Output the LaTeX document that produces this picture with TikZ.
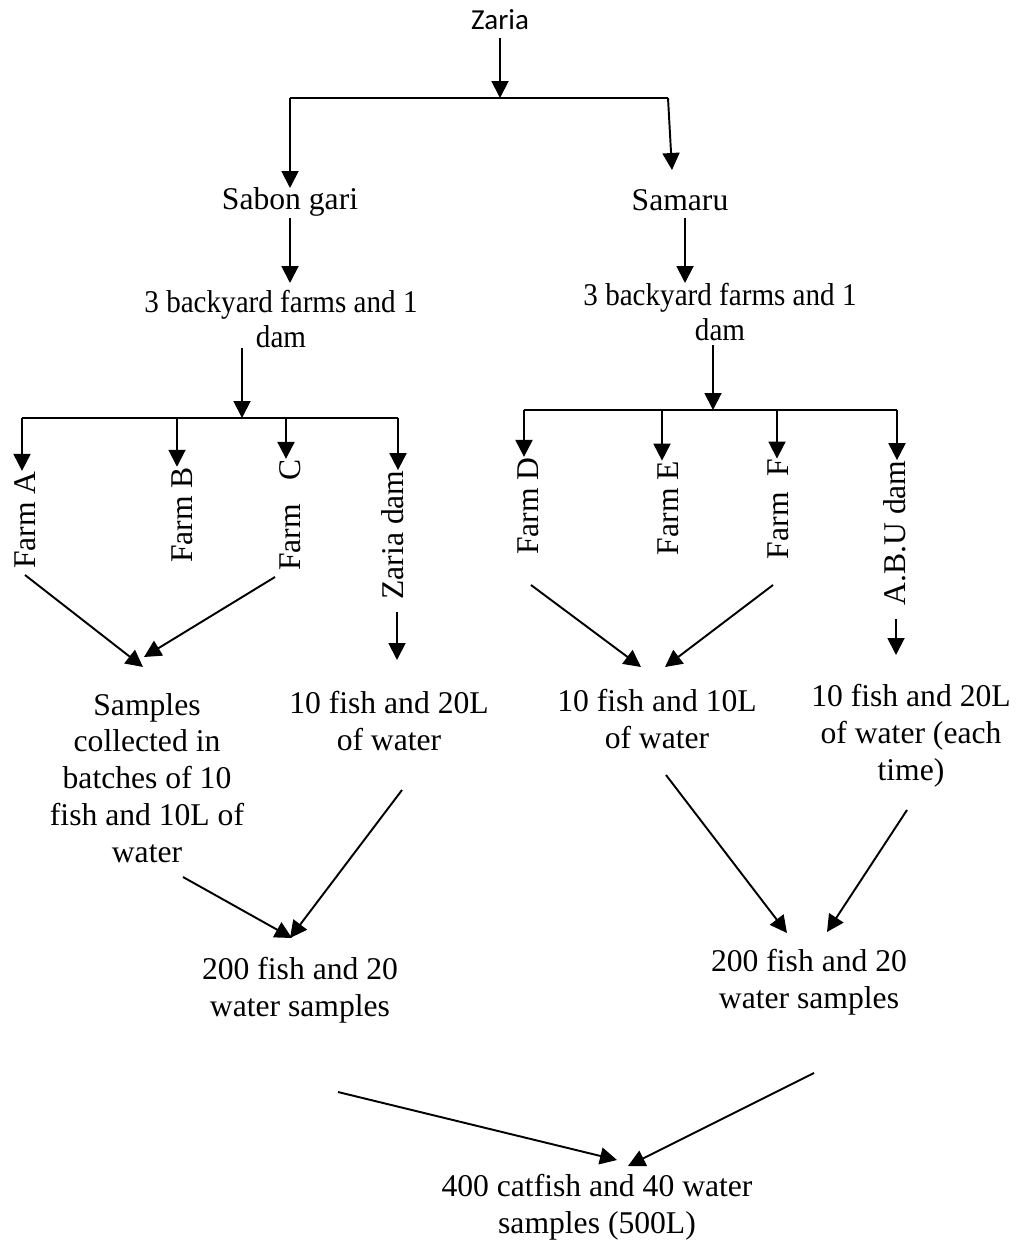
\documentclass[tikz,border=0pt]{standalone}
\usepackage{fontspec}
\setmainfont{Liberation Serif}
\newfontfamily\zariafont{Carlito}
\newfontfamily\narrowfont[FakeStretch=0.92]{Liberation Serif}
\usetikzlibrary{arrows.meta,calc}
\tikzset{
  note/.style={align=center, inner sep=0pt, font=\fontsize{18}{21}\selectfont},
  farm/.style={rotate=90, inner sep=0pt, font=\fontsize{18}{21}\selectfont},
  link/.style={-{Triangle[length=3.4mm, width=3.4mm]}, line width=1.1pt},
  branch/.style={line width=1.1pt}
}

\begin{document}
\begin{tikzpicture}
  \useasboundingbox (0,0) rectangle (20.4,-24.82);

  \node[note, font=\zariafont\fontsize{16.5}{19}\selectfont] (zaria) at (10.00,-0.40) {Zaria};
  \node[note] (sabon) at (5.80,-4.04) {Sabon gari};
  \node[note] (samaru) at (13.60,-4.00) {Samaru};
  \node[note, font=\narrowfont\fontsize{18}{20}\selectfont] (sabonfarms) at (5.62,-6.38) {3 backyard farms and 1\\dam};
  \node[note, font=\narrowfont\fontsize{18}{20}\selectfont] (samarufarms) at (14.40,-6.24) {3 backyard farms and 1\\dam};

  \node[farm] (farmA) at (0.50,-10.40) {Farm A};
  \node[farm] (farmB) at (3.64,-10.30) {Farm B};
  \node[farm] (farmC) at (5.80,-10.30) {Farm\ \ \ C};
  \node[farm] (zariadam) at (7.86,-10.70) {Zaria dam};
  \node[farm] (farmD) at (10.56,-10.12) {Farm D};
  \node[farm] (farmE) at (13.36,-10.16) {Farm E};
  \node[farm] (farmF) at (15.56,-10.18) {Farm\ \ F};
  \node[farm] (abudam) at (17.90,-10.66) {A.B.U dam};

  \node[note] (batches) at (2.94,-15.56) {Samples\\collected in\\batches of 10\\fish and 10L of\\water};
  \node[note] (zariawater) at (7.78,-14.42) {10 fish and 20L\\of water};
  \node[note] (farmwater) at (13.14,-14.38) {10 fish and 10L\\of water};
  \node[note] (abuwater) at (18.22,-14.72) {10 fish and 20L\\of water (each\\time)};
  \node[note] (sumsabon) at (6.00,-19.80) {200 fish and 20\\water samples};
  \node[note] (sumsamaru) at (16.18,-19.64) {200 fish and 20\\water samples};
  \node[note] (total) at (11.94,-24.14) {400 catfish and 40 water\\samples (500L)};

  \coordinate (split) at (10.00,-1.96);
  \coordinate (forkL) at (4.84,-8.36);
  \coordinate (forkR) at (14.26,-8.20);

  \draw[link] ($(zaria)+(0,-0.36)$) -- (split);
  \draw[branch] (5.80,-1.96) -- (13.36,-1.96);
  \draw[link] (5.80,-1.96) -- ($(sabon)+(0,0.28)$);
  \draw[link] (13.36,-1.96) -- ($(samaru)+(-0.16,0.60)$);
  \draw[link] ($(sabon)+(0,-0.32)$) -- ($(sabonfarms)+(0.18,0.72)$);
  \draw[link] ($(samaru)+(0.10,-0.36)$) -- ($(samarufarms)+(-0.70,0.58)$);
  \draw[link] ($(sabonfarms)+(-0.78,-0.58)$) -- (forkL);
  \draw[link] ($(samarufarms)+(-0.14,-0.66)$) -- (forkR);

  \draw[branch] (0.44,-8.36) -- (7.96,-8.36);
  \foreach \n/\x in {farmA/0.44, farmB/3.54, farmC/5.72, zariadam/7.96}
    \draw[link] (\x,-8.36) -- (\x,-8.36 |- \n.east);
  \draw[branch] (10.48,-8.20) -- (17.94,-8.20);
  \foreach \n/\x in {farmD/10.48, farmE/13.24, farmF/15.54, abudam/17.94}
    \draw[link] (\x,-8.20) -- (\x,-8.20 |- \n.east);

  \draw[link] ($(farmA)+(0,-1.10)$) -- ($(batches)+(-0.08,2.22)$);
  \draw[link] ($(farmC)+(-0.30,-1.24)$) -- ($(batches)+(-0.06,2.42)$);
  \draw[link] ($(zariadam)+(0.08,-1.54)$) -- ($(zariawater)+(0.16,1.22)$);
  \draw[link] ($(farmD)+(0.06,-1.58)$) -- ($(farmwater)+(-0.32,1.04)$);
  \draw[link] ($(farmF)+(-0.10,-1.52)$) -- ($(farmwater)+(0.16,1.04)$);
  \draw[link] ($(abudam)+(0.02,-1.72)$) -- ($(abuwater)+(-0.30,1.62)$);

  \draw[link] ($(batches)+(0.72,-1.98)$) -- ($(sumsabon)+(-0.16,1.04)$);
  \draw[link] ($(zariawater)+(0.26,-1.38)$) -- ($(sumsabon)+(-0.20,1.04)$);
  \draw[link] ($(farmwater)+(0.18,-1.12)$) -- ($(sumsamaru)+(-0.44,0.98)$);
  \draw[link] ($(abuwater)+(-0.08,-1.48)$) -- ($(sumsamaru)+(0.36,1.00)$);

  \draw[link] ($(sumsabon)+(0.76,-2.04)$) -- ($(total)+(0.40,0.94)$);
  \draw[link] ($(sumsamaru)+(0.10,-1.82)$) -- ($(total)+(0.62,0.82)$);
\end{tikzpicture}
\end{document}
